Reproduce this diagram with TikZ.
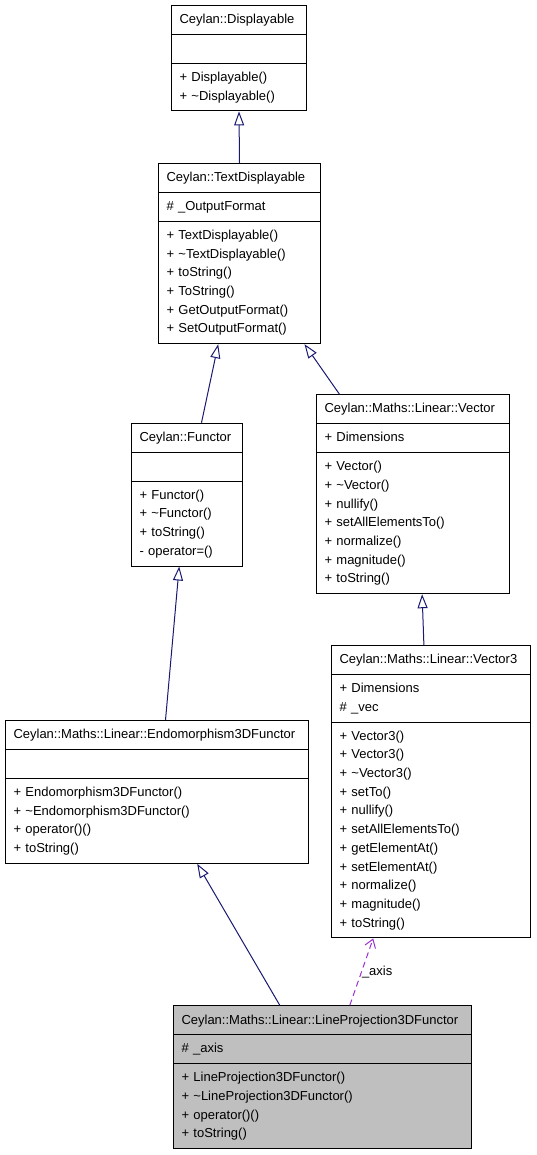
\documentclass[tikz,border=0pt]{standalone}
\usepackage{fontspec}
\setmainfont{Liberation Sans}
\usetikzlibrary{shapes.multipart,arrows.meta}

\definecolor{inheritblue}{HTML}{191970}
\definecolor{usepurple}{HTML}{9A32CD}
\definecolor{curgray}{HTML}{BFBFBF}

\tikzset{
  umlclass/.style={rectangle split, rectangle split parts=3, draw=black,
    line width=1pt, anchor=north west, inner xsep=8pt, inner ysep=4.6pt,
    font=\fontsize{13}{18.7}\selectfont},
  inherit/.style={draw=inheritblue, line width=1pt,
    -{Triangle[open, length=14pt, width=10pt]}},
  uses/.style={draw=usepurple, line width=1pt, dash pattern=on 6pt off 4pt,
    -{Straight Barb[length=8pt, width=11pt]}},
}

\begin{document}
\begin{tikzpicture}[x=1pt, y=-1pt]
        \useasboundingbox (0,0) rectangle (536,1155);

        % classes
        \node[umlclass, text width=119pt] (disp) at (171,5)
          {\centering\strut Ceylan::Displayable
           \nodepart{second}\strut
           \nodepart{third}\strut + Displayable()\\\strut + \textasciitilde Displayable()};
        \node[umlclass, text width=146pt] (tdisp) at (158,163)
          {\centering\strut Ceylan::TextDisplayable
           \nodepart{second}\strut \# \_OutputFormat
           \nodepart{third}\strut + TextDisplayable()\\\strut + \textasciitilde TextDisplayable()\\
           \strut + toString()\\\strut + ToString()\\\strut + GetOutputFormat()\\
           \strut + SetOutputFormat()};
        \node[umlclass, text width=95pt] (func) at (131,422.7)
          {\centering\strut Ceylan::Functor
           \nodepart{second}\strut
           \nodepart{third}\strut + Functor()\\\strut + \textasciitilde Functor()\\
           \strut + toString()\\\strut - operator=()};
        \node[umlclass, text width=177pt] (vec) at (316,394.3)
          {\centering\strut Ceylan::Maths::Linear::Vector
           \nodepart{second}\strut + Dimensions
           \nodepart{third}\strut + Vector()\\\strut + \textasciitilde Vector()\\
           \strut + nullify()\\\strut + setAllElementsTo()\\\strut + normalize()\\
           \strut + magnitude()\\\strut + toString()};
        \node[umlclass, text width=183pt] (vecthree) at (331,645)
          {\centering\strut Ceylan::Maths::Linear::Vector3
           \nodepart{second}\strut + Dimensions\\\strut \# \_vec
           \nodepart{third}\strut + Vector3()\\\strut + Vector3()\\
           \strut + \textasciitilde Vector3()\\\strut + setTo()\\\strut + nullify()\\
           \strut + setAllElementsTo()\\\strut + getElementAt()\\\strut + setElementAt()\\
           \strut + normalize()\\\strut + magnitude()\\\strut + toString()};
        \node[umlclass, text width=287pt] (endo) at (5,720)
          {\centering\strut Ceylan::Maths::Linear::Endomorphism3DFunctor
           \nodepart{second}\strut
           \nodepart{third}\strut + Endomorphism3DFunctor()\\
           \strut + \textasciitilde Endomorphism3DFunctor()\\
           \strut + operator()()\\\strut + toString()};
        \node[umlclass, text width=282pt, fill=curgray] (lineproj) at (173,1005.3)
          {\centering\strut Ceylan::Maths::Linear::LineProjection3DFunctor
           \nodepart{second}\strut \# \_axis
           \nodepart{third}\strut + LineProjection3DFunctor()\\
           \strut + \textasciitilde LineProjection3DFunctor()\\
           \strut + operator()()\\\strut + toString()};

        % inheritance
        \draw[inherit] (tdisp.north) -- (disp.south);
        \draw[inherit] ([xshift=14.5pt]func.north) -- ([xshift=-21.3pt]tdisp.south);
        \draw[inherit] ([xshift=-73.5pt]vec.north) -- ([xshift=65pt]tdisp.south);
        \draw[inherit] ([xshift=8.5pt]endo.north) -- ([xshift=-7.8pt]func.south);
        \draw[inherit] ([xshift=-7.1pt]vecthree.north) -- ([xshift=9.1pt]vec.south);
        \draw[inherit] ([xshift=-42.7pt]lineproj.north) -- ([xshift=40.2pt]endo.south);

        % usage
        \draw[uses] ([xshift=27.3pt]lineproj.north) -- ([xshift=-57.8pt]vecthree.south)
          node[midway, anchor=west, inner sep=0pt, font=\fontsize{13}{15}\selectfont] (axislbl) {\_axis};
      \end{tikzpicture}
\end{document}
